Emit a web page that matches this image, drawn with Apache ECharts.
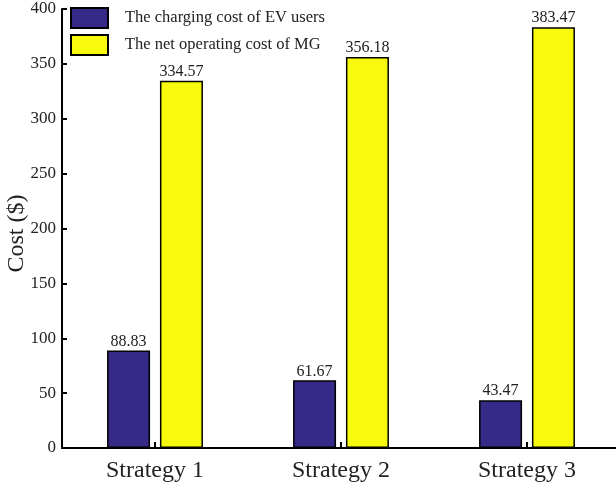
<!DOCTYPE html>
<html><head><meta charset="utf-8">
<script src="https://cdn.jsdelivr.net/npm/echarts@6/dist/echarts.min.js"></script>
<style>html,body{margin:0;padding:0;background:#fff}#c{width:616px;height:483px}</style>
</head><body><div id="c"></div>
<script>
const categories = ['Strategy 1', 'Strategy 2', 'Strategy 3'];
const evCost = [88.83, 61.67, 43.47];
const mgCost = [334.57, 356.18, 383.47];
const seriesNames = ['The charging cost of EV users', 'The net operating cost of MG'];
const yTicks = [0, 50, 100, 150, 200, 250, 300, 350, 400];

const font = 'Liberation Serif';
const chart = echarts.init(document.getElementById('c'), null, {renderer: 'canvas'});
const labelStyle = {show: true, position: 'top', distance: 1, color: '#222', fontFamily: font, fontSize: 16,
  formatter: p => p.value.toFixed(2)};
chart.setOption({
  animation: false,
  textStyle: {fontFamily: font},
  legend: {
    orient: 'vertical', left: 70, top: 7, itemWidth: 37, itemHeight: 20, itemGap: 5, padding: 0,
    textStyle: {fontFamily: font, fontSize: 16.5, color: '#222', padding: [0, 0, 0, 12]},
    data: seriesNames.map(n => ({name: n, icon: 'rect'}))
  },
  grid: {left: 62, right: -4, top: 9, bottom: 35, containLabel: false, outerBoundsMode: 'none'},
  xAxis: {
    type: 'category', data: categories,
    axisLine: {lineStyle: {color: '#000', width: 2}},
    axisTick: {show: true, alignWithLabel: true, inside: true, length: 6, lineStyle: {color: '#000', width: 2}},
    axisLabel: {color: '#222', fontFamily: font, fontSize: 24, margin: 11}
  },
  yAxis: {
    type: 'value', min: yTicks[0], max: yTicks[yTicks.length - 1], interval: 50,
    name: 'Cost ($)', nameLocation: 'middle', nameGap: 33, nameMoveOverlap: false,
    nameTextStyle: {fontFamily: font, fontSize: 24, color: '#222', padding: [0, 10, 0, 0]},
    axisLine: {show: true, lineStyle: {color: '#000', width: 2}},
    axisTick: {show: true, inside: true, length: 5, lineStyle: {color: '#000', width: 2}},
    axisLabel: {color: '#222', fontFamily: font, fontSize: 17, margin: 6},
    splitLine: {show: false}
  },
  series: [
    {name: seriesNames[0], type: 'bar', data: evCost, barWidth: 43, barGap: '23%',
     itemStyle: {color: '#352a87', borderColor: '#000', borderWidth: 1.5}, label: labelStyle},
    {name: seriesNames[1], type: 'bar', data: mgCost, barWidth: 43,
     itemStyle: {color: '#f8fa0d', borderColor: '#000', borderWidth: 1.5}, label: labelStyle}
  ]
});
</script></body></html>
